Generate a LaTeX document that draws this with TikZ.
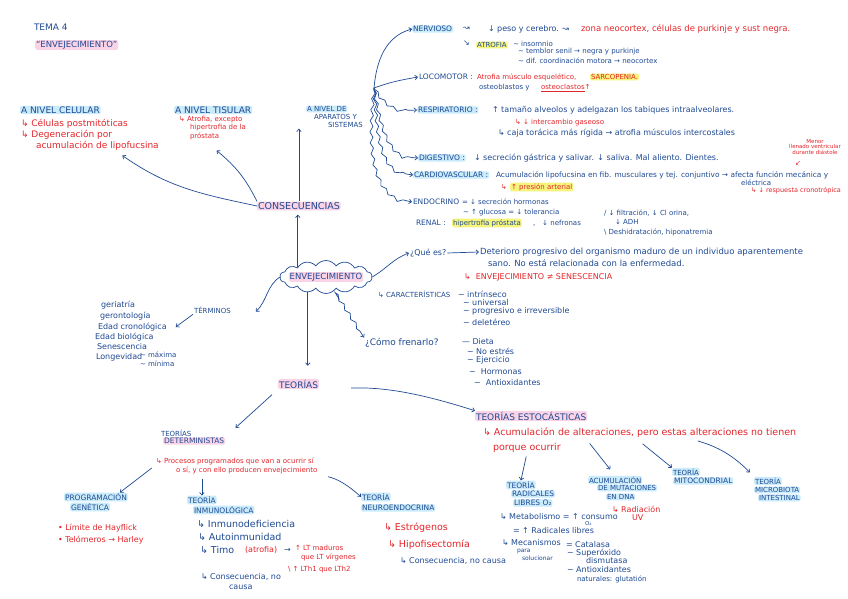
\documentclass[tikz,border=0pt]{standalone}
\usepackage{fontspec}
\setmainfont{DejaVu Sans}
\usepackage{xcolor}
\usepackage{tikz}
\usetikzlibrary{arrows.meta,shapes.symbols,decorations.pathmorphing,calc}

\definecolor{ink}{HTML}{1F4A94}
\definecolor{redink}{HTML}{E3262B}
\definecolor{pinkhl}{HTML}{FAD4E6}
\definecolor{bluehl}{HTML}{C9EBFA}
\definecolor{yelhl}{HTML}{F6F47C}
\newcommand{\wig}{\textasciitilde\ }

\begin{document}
\begin{tikzpicture}[x=1pt, y=-1pt,
    txt/.style={anchor=west, inner sep=0.8pt, text=ink, font=\fontsize{8}{9}\selectfont},
    rtxt/.style={txt, text=redink},
    caplbl/.style={txt, font=\fontsize{7.5}{8.5}\selectfont},
    sm/.style={font=\fontsize{7}{8}\selectfont},
    mid/.style={font=\fontsize{9}{10}\selectfont},
    big/.style={font=\fontsize{9.5}{11}\selectfont},
    xs/.style={font=\fontsize{5.5}{5.8}\selectfont},
    pinkbox/.style={fill=pinkhl, rounded corners=2pt},
    bluebox/.style={fill=bluehl, rounded corners=2pt},
    yelbox/.style={fill=yelhl, rounded corners=2pt},
    link/.style={-{Straight Barb[length=2.5pt,width=4.5pt]}, draw=ink, line width=0.7pt},
    wavy/.style={link, decorate, decoration={snake, amplitude=1.5pt, segment length=11pt, pre length=2pt, post length=5pt}}]
        \fill[white] (0,0) rectangle (848,599);

        % Title
        \node[caplbl, font=\fontsize{9}{10}\selectfont] (tema) at (33, 27) {TEMA 4};
        \node[caplbl, pinkbox, font=\fontsize{8.5}{9}\selectfont] (titulo) at (35, 45) {“ENVEJECIMIENTO”};

        % Consecuencias
        \node[caplbl, pinkbox, big] (consec) at (257, 206) {CONSECUENCIAS};
        \node[caplbl, bluebox, mid] (celular) at (20, 110) {A NIVEL CELULAR};
        \node[rtxt, mid] (cel1) at (20, 124) {↳ Células postmitóticas};
        \node[rtxt, mid] (cel2) at (20, 135) {↳ Degeneración por};
        \node[rtxt, mid] (cel3) at (35, 146) {acumulación de lipofucsina};
        \node[caplbl, bluebox, mid] (tisular) at (174, 110) {A NIVEL TISULAR};
        \node[rtxt, sm] (tis1) at (178, 120) {↳ Atrofia, excepto};
        \node[rtxt, sm] (tis2) at (189, 128) {hipertrofia de la};
        \node[rtxt, sm] (tis3) at (189, 136) {próstata};
        \node[caplbl, bluebox, sm] (apar1) at (306, 109) {A NIVEL DE};
        \node[caplbl, sm] (apar2) at (313, 117) {APARATOS Y};
        \node[caplbl, sm] (apar3) at (327, 125) {SISTEMAS};
        \draw[link] (consec.north) -- (consec.north |- apar3.south);
        \draw[link] (consec.north west) to[bend right=12] ([xshift=12pt, yshift=-10pt]tis3.south);
        \draw[link] (consec.west) to[out=168, in=-35] ([xshift=25pt, yshift=-4pt]cel3.south);

        % Aparatos y sistemas
        \coordinate (hub) at (374, 88);
        \node[caplbl, bluebox] (nerv) at (412, 29) {NERVIOSO};
        \node[txt] (nervs) at (462, 29) {↝};
        \node[txt] (peso) at (487, 29) {↓ peso y cerebro. ↝};
        \node[rtxt, font=\fontsize{8.5}{9}\selectfont] (zona) at (580, 29) {zona neocortex, células de purkinje y sust negra.};
        \node[txt] (atrofarr) at (462, 43) {↘};
        \node[caplbl, yelbox, sm] (atrofia) at (476, 45) {ATROFIA};
        \node[txt, sm] (insom) at (512, 44) {\wig insomnio};
        \node[txt, sm] (temblor) at (517, 52) {\wig temblor senil → negra y purkinje};
        \node[txt, sm] (coord) at (517, 61) {\wig dif. coordinación motora → neocortex};

        \node[caplbl] (loco) at (418, 77) {LOCOMOTOR :};
        \node[rtxt, sm] (loco1) at (476, 77) {Atrofia músculo esquelético,};
        \node[rtxt, sm, yelbox] (sarco) at (590, 77) {SARCOPENIA.};
        \node[txt, sm] (osteob) at (478, 88) {osteoblastos y};
        \node[rtxt, sm] (osteoc) at (540, 88) {\underline{osteoclastos}↑};

        \node[caplbl, bluebox] (resp) at (417, 110) {RESPIRATORIO :};
        \node[txt] (resp1) at (491, 110) {↑ tamaño alveolos y adelgazan los tabiques intraalveolares.};
        \node[rtxt, sm] (resp2) at (514, 123) {↳ ↓ intercambio gaseoso};
        \node[txt] (resp3) at (497, 133) {↳ caja torácica más rígida → atrofia músculos intercostales};

        \node[caplbl, bluebox] (dig) at (418, 158) {DIGESTIVO :};
        \node[txt] (dig1) at (473, 158) {↓ secreción gástrica y salivar. ↓ saliva. Mal aliento. Dientes.};
        \node[rtxt, xs, align=center, anchor=center] (llenado) at (815, 147) {Menor\\llenado ventricular\\durante diástole};
        \node[rtxt, sm] (llenarr) at (794, 163) {↙};

        \node[caplbl, bluebox] (cardio) at (413, 175) {CARDIOVASCULAR :};
        \node[txt, font=\fontsize{7.4}{8}\selectfont] (cardio1) at (495, 175) {Acumulación lipofucsina en fib. musculares y tej. conjuntivo → afecta función mecánica y};
        \node[txt, sm] (electrica) at (740, 183) {eléctrica};
        \node[rtxt, font=\fontsize{6.5}{7}\selectfont] (crono) at (750, 191) {↳ ↓ respuesta cronotrópica};
        \node[rtxt, sm] (pres0) at (500, 187) {↳};
        \node[rtxt, sm, yelbox] (presion) at (510, 187) {↑ presión arterial};

        \node[caplbl] (endo) at (412, 202) {ENDOCRINO};
        \node[txt, sm] (endo1) at (461, 202) {= ↓ secreción hormonas};
        \node[txt, sm] (endo2) at (462, 213) {\wig ↑ glucosa = ↓ tolerancia};

        \node[caplbl] (renal) at (415, 223) {RENAL :};
        \node[txt, sm, yelbox] (hipert) at (452, 223) {hipertrofia próstata};
        \node[txt, sm] (nefro) at (532, 223) {,\quad ↓ nefronas};
        \node[txt, sm] (filtr) at (603, 213) {/ ↓ filtración, ↓ Cl orina,};
        \node[txt, sm] (adh) at (614, 222) {↓ ADH};
        \node[txt, sm] (deshid) at (603, 232) {\textbackslash\ Deshidratación, hiponatremia};

        \draw[link] (hub) to[out=85, in=195] (nerv.west);
        \draw[link] (hub) to[out=20, in=190] (loco.west);
        \draw[wavy] (hub) to[out=-60, in=185] (resp.west);
        \draw[wavy] (hub) to[out=-80, in=180] (dig.west);
        \draw[wavy] (hub) to[out=-85, in=175] (cardio.west);
        \draw[wavy] (hub) to[out=-95, in=170] (endo.west);

        % Envejecimiento
        \node[cloud, draw=ink, line width=0.7pt, cloud puffs=14, cloud puff arc=110, aspect=3,
              minimum width=92pt, minimum height=33pt, inner sep=0pt] (cloud) at (326, 277) {};
        \node[caplbl, pinkbox, anchor=center, font=\fontsize{8.5}{9}\selectfont] (envej) at (cloud.center) {ENVEJECIMIENTO};
        \draw[link, shorten >=4pt] (cloud.160) -- (cloud.160 |- consec.south);

        % Que es
        \node[txt] (quees) at (409, 253) {¿Qué es?};
        \node[txt, font=\fontsize{8.5}{9}\selectfont] (deter1) at (479, 252) {Deterioro progresivo del organismo maduro de un individuo aparentemente};
        \node[txt, font=\fontsize{8.5}{9}\selectfont] (deter2) at (487, 263) {sano. No está relacionada con la enfermedad.};
        \node[rtxt] (senesc) at (463, 277) {↳ \ ENVEJECIMIENTO ≠ SENESCENCIA};
        \draw[link] (cloud.east) to[out=30, in=200] (quees.west);
        \draw[link] (quees.east) -- (deter1.west);

        % Caracteristicas
        \node[txt, sm] (caract) at (377, 294) {↳ CARACTERÍSTICAS};
        \node[txt] (intr) at (457, 294) {\wig intrínseco};
        \node[txt] (univ) at (462, 303) {\wig universal};
        \node[txt] (progr) at (462, 311) {\wig progresivo e irreversible};
        \node[txt] (delet) at (462, 322) {\wig deletéreo};

        % Como frenarlo
        \node[txt, mid] (frenar) at (364, 343) {¿Cómo frenarlo?};
        \node[txt] (dieta) at (461, 342) {— Dieta};
        \node[txt] (estres) at (466, 351) {\wig No estrés};
        \node[txt] (ejer) at (466, 360) {\wig Ejercicio};
        \node[txt] (horm) at (468, 372) {\wig\ Hormonas};
        \node[txt] (antiox) at (473, 383) {\wig\ Antioxidantes};
        \draw[wavy, shorten <=10pt] (cloud.300) -- (frenar.north west);

        % Terminos
        \node[caplbl, sm] (terminos) at (193, 310) {TÉRMINOS};
        \node[txt] (geria) at (100, 305) {geriatría};
        \node[txt] (geronto) at (99, 316) {gerontología};
        \node[txt] (edadcron) at (97, 327) {Edad cronológica};
        \node[txt] (edadbio) at (94, 337) {Edad biológica};
        \node[txt] (senesc2) at (96, 347) {Senescencia};
        \node[txt] (longev) at (95, 357) {Longevidad};
        \node[txt, sm] (maxima) at (139, 355) {\wig máxima};
        \node[txt, sm] (minima) at (139, 364) {\wig mínima};
        \draw[link] (cloud.west) to[out=215, in=45] ([xshift=24pt, yshift=-6pt]terminos.north east);
        \draw[link] (terminos.south west) -- ([xshift=8pt]edadcron.east);

        % Teorias
        \node[caplbl, pinkbox, mid] (teorias) at (278, 384) {TEORÍAS};
        \draw[link, shorten >=13pt] (cloud.220) -- (cloud.220 |- teorias.north);

        % Teorias deterministas
        \node[caplbl, sm] (determ1) at (160, 433) {TEORÍAS};
        \node[caplbl, pinkbox] (determ2) at (163, 441) {DETERMINISTAS};
        \node[rtxt, sm] (proc1) at (155, 461) {↳ Procesos programados que van a ocurrir sí};
        \node[rtxt, sm] (proc2) at (175, 470) {o sí, y con ello producen envejecimiento};
        \draw[link, shorten <=8pt, shorten >=14pt] (teorias.south west) -- (determ2.north east);

        \node[caplbl, bluebox] (progr1) at (64, 497) {PROGRAMACIÓN};
        \node[caplbl, bluebox] (progr2) at (70, 507) {GENÉTICA};
        \node[rtxt] (hay) at (57, 528) {• Límite de Hayflick};
        \node[rtxt] (telo) at (57, 540) {• Telómeros → Harley};
        \draw[link, shorten <=4pt] (proc1.south west) -- ([xshift=-8pt]progr1.north east);

        \node[caplbl, bluebox] (inmu1) at (187, 500) {TEORÍA};
        \node[caplbl, bluebox] (inmu2) at (193, 510) {INMUNOLÓGICA};
        \node[txt, big] (inmu3) at (196, 524) {↳ Inmunodeficiencia};
        \node[txt, big] (inmu4) at (197, 537) {↳ Autoinmunidad};
        \node[txt, big] (timo) at (199, 550) {↳ Timo};
        \node[rtxt] (atrof) at (244, 550) {(atrofia)};
        \node[txt] (timoarr) at (283, 550) {→};
        \node[rtxt, sm] (ltmad1) at (294, 548) {↑ LT maduros};
        \node[rtxt, sm] (ltmad2) at (300, 557) {que LT vírgenes};
        \node[rtxt, sm] (lth) at (287, 570) {\textbackslash\ ↑ LTh1 que LTh2};
        \node[txt] (cons1) at (200, 577) {↳ Consecuencia, no};
        \node[txt] (cons2) at (228, 587) {causa};
        \draw[link, shorten <=4pt] (inmu1.north |- proc2.south) -- (inmu1.north);

        \node[caplbl, bluebox] (neuro1) at (361, 497) {TEORÍA};
        \node[caplbl, bluebox] (neuro2) at (361, 508) {NEUROENDOCRINA};
        \node[rtxt, big] (estrog) at (383, 528) {↳ Estrógenos};
        \node[rtxt, big] (hipof) at (387, 545) {↳ Hipofisectomía};
        \node[txt] (cons3) at (399, 561) {↳ Consecuencia, no causa};
        \draw[link, shorten <=10pt] (proc2.south east) to[bend left=15] (neuro1.west);

        % Teorias estocasticas
        \node[caplbl, pinkbox, mid] (estoc) at (475, 416) {TEORÍAS ESTOCÁSTICAS};
        \node[rtxt, big] (alter1) at (482, 433) {↳ Acumulación de alteraciones, pero estas alteraciones no tienen};
        \node[rtxt, big] (alter2) at (492, 448) {porque ocurrir};
        \draw[link, shorten <=32pt] (teorias.south east) to[bend left=10] (estoc.north west);

        \node[caplbl, bluebox] (radic1) at (506, 485) {TEORÍA};
        \node[caplbl, bluebox] (radic2) at (511, 494) {RADICALES};
        \node[caplbl, bluebox] (radic3) at (513, 503) {LIBRES O₂};
        \node[txt] (metab) at (499, 517) {↳ Metabolismo = ↑ consumo};
        \node[txt, xs] (o2) at (584, 523) {O₂};
        \node[txt] (radlib) at (512, 531) {= ↑ Radicales libres};
        \node[txt] (mecan1) at (501, 543) {↳ Mecanismos};
        \node[txt, font=\fontsize{6}{6.5}\selectfont] (mecan2) at (516, 551) {para};
        \node[txt, font=\fontsize{6}{6.5}\selectfont] (mecan3) at (521, 558) {solucionar};
        \node[txt] (catal) at (565, 545) {= Catalasa};
        \node[txt] (superox1) at (566, 553) {\wig Superóxido};
        \node[txt] (superox2) at (585, 561) {dismutasa};
        \node[txt] (antiox2) at (566, 570) {\wig Antioxidantes};
        \node[txt, sm] (antiox3) at (576, 579) {naturales: glutatión};
        \draw[link, shorten <=3pt] (alter2.south) -- (radic1.north);

        \node[caplbl, bluebox, sm] (mut1) at (588, 480) {ACUMULACIÓN};
        \node[caplbl, bluebox, sm] (mut2) at (597, 488) {DE MUTACIONES};
        \node[caplbl, bluebox, sm] (mut3) at (606, 497) {EN DNA};
        \node[rtxt] (radiac1) at (611, 509) {↳ Radiación};
        \node[rtxt] (radiac2) at (631, 518) {UV};
        \draw[link, shorten <=6pt, shorten >=8pt] ($(alter1.south west)!0.33!(alter1.south east)$) -- (mut1.north);

        \node[caplbl, bluebox, sm] (mitoc1) at (672, 472) {TEORÍA};
        \node[caplbl, bluebox] (mitoc2) at (673, 481) {MITOCONDRIAL};
        \draw[link, shorten <=8pt] ($(alter1.south west)!0.49!(alter1.south east)$) -- (mitoc1.north west);

        \node[caplbl, bluebox, sm] (micro1) at (754, 481) {TEORÍA};
        \node[caplbl, bluebox, sm] (micro2) at (754, 490) {MICROBIOTA};
        \node[caplbl, bluebox, sm] (micro3) at (758, 498) {INTESTINAL};
        \draw[link, shorten <=8pt, shorten >=6pt] ($(alter1.south west)!0.66!(alter1.south east)$) to[bend left=15] (micro1.north west);
    \end{tikzpicture}
\end{document}
